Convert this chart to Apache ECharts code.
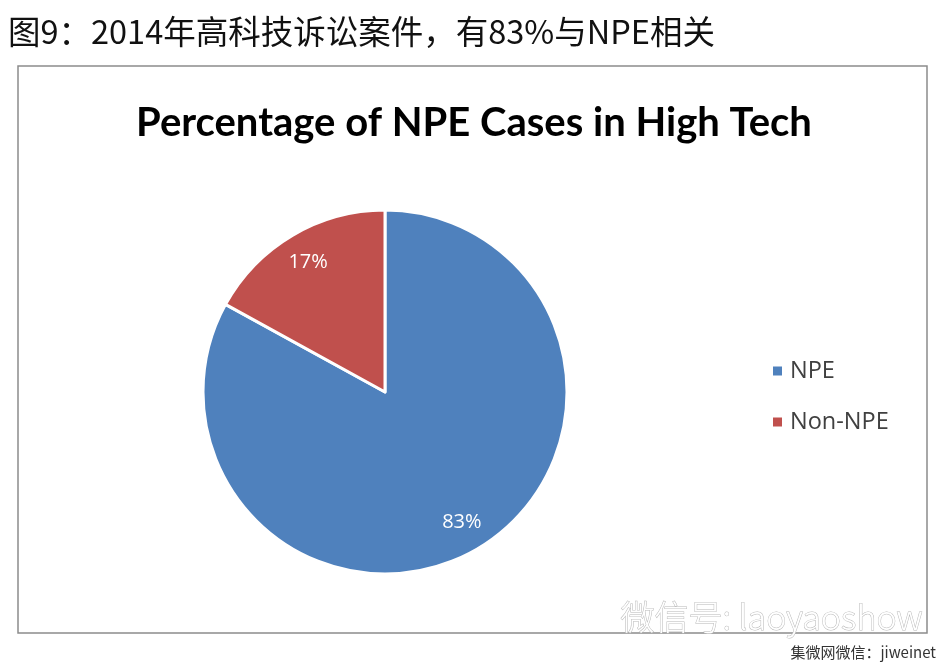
<!DOCTYPE html>
<html>
<head>
<meta charset="utf-8">
<script src="https://cdn.jsdelivr.net/npm/echarts@6/dist/echarts.min.js"></script>
<style>
  html, body { margin: 0; padding: 0; background: #fff; }
  #chart { width: 946px; height: 672px; }
</style>
</head>
<body>
<div id="chart"></div>
<script>
// data
var categories = ['NPE', 'Non-NPE'];
var shares = [83, 17];
var sliceColors = ['#4F81BD', '#C0504D'];

var pieData = [];
for (var i = 0; i < categories.length; i++) {
    pieData.push({ name: categories[i], value: shares[i] });
}

var chart = echarts.init(document.getElementById('chart'));

var option = {
    backgroundColor: '#FFFFFF',
    animation: false,
    color: sliceColors,
    title: [{
        text: '图9：2014年高科技诉讼案件，有83%与NPE相关',
        left: 3,
        top: 10,
        textStyle: { fontFamily: 'Noto Sans CJK SC', fontSize: 32.5, fontWeight: 'normal', color: '#111' }
    }, {
        text: 'Percentage of NPE Cases in High Tech',
        left: 469,
        textAlign: 'center',
        top: 98,
        textStyle: { fontFamily: 'Lato', fontSize: 40, fontWeight: 'bold', color: '#000' }
    }],
    legend: {
        orient: 'vertical',
        left: 766,
        top: 354,
        icon: 'rect',
        itemWidth: 11,
        itemHeight: 11,
        itemGap: 27,
        data: categories,
        textStyle: { fontFamily: 'Open Sans', fontSize: 23.5, color: '#404040', padding: [0, 0, 0, 2] }
    },
    graphic: [
        {
            type: 'rect',
            shape: { x: 18, y: 66, width: 909, height: 567 },
            style: { fill: 'none', stroke: '#8c8c8c', lineWidth: 1.5 },
            z: -1
        },
        {
            type: 'text',
            left: 620,
            top: 600,
            style: {
                text: '微信号: laoyaoshow',
                font: '300 34px "Noto Sans CJK SC"',
                fill: '#ffffff',
                stroke: '#b8b8b8',
                lineWidth: 1
            }
        },
        {
            type: 'text',
            right: 10,
            top: 645,
            style: {
                text: '集微网微信：jiweinet',
                font: '15px "Noto Sans CJK SC"',
                fill: '#333'
            }
        }
    ],
    series: [
        {
            name: 'share',
            type: 'pie',
            center: [385, 392],
            radius: 182,
            startAngle: 90,
            clockwise: true,
            data: pieData,
            label: { show: false },
            labelLine: { show: false },
            itemStyle: { borderColor: '#fff', borderWidth: 3 },
            emphasis: { disabled: true }
        },
        {
            // transparent ring only to place labels at ~80% radius
            name: 'labels',
            type: 'pie',
            center: [385, 392],
            radius: [114, 182],
            startAngle: 90,
            clockwise: true,
            silent: true,
            data: pieData,
            itemStyle: { color: 'rgba(0,0,0,0)' },
            label: {
                show: true,
                position: 'inside',
                formatter: '{c}%',
                fontFamily: 'Open Sans',
                fontSize: 20,
                color: '#ffffff'
            },
            labelLine: { show: false },
            emphasis: { disabled: true }
        }
    ]
};

chart.setOption(option);
</script>
</body>
</html>
